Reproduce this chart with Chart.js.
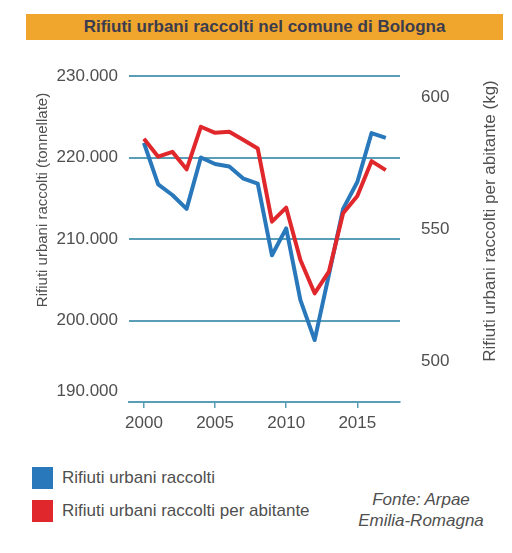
<!DOCTYPE html>
<html lang="it">
<head>
<meta charset="utf-8">
<title>Rifiuti urbani raccolti nel comune di Bologna</title>
<script src="https://cdn.jsdelivr.net/npm/chart.js@4/dist/chart.umd.min.js"></script>
<style>
  body { margin: 0; background: #fff; font-family: "Liberation Sans", Arial, sans-serif; }
  #wrap { position: relative; width: 512px; height: 553px; overflow: hidden; }
  #chartBox { position: absolute; left: 0; top: 0; width: 512px; height: 440px; }
  .titlebar { position: absolute; left: 26px; top: 14px; width: 477px; height: 26px; background: #f0a52c;
    color: #3b3c4e; font-weight: bold; font-size: 17px; line-height: 26px; text-align: center; }
  .legend { position: absolute; left: 32px; color: #4f4f4f; font-size: 17px; line-height: 22px; }
  .legend .sw { display: inline-block; width: 21px; height: 22px; vertical-align: top; margin-right: 9px; }
  .source { position: absolute; left: 340px; width: 162px; top: 489px; text-align: center; font-style: italic;
    color: #4f4f4f; font-size: 17px; line-height: 21px; }
</style>
</head>
<body>
<div id="wrap">
  <div class="titlebar">Rifiuti urbani raccolti nel comune di Bologna</div>
  <div id="chartBox"><canvas id="wasteChart" width="512" height="440"></canvas></div>
  <div class="legend" style="top:467px"><span class="sw" style="background:#2878bb"></span>Rifiuti urbani raccolti</div>
  <div class="legend" style="top:500px"><span class="sw" style="background:#e0282c"></span>Rifiuti urbani raccolti per abitante</div>
  <div class="source">Fonte: Arpae<br>Emilia-Romagna</div>
</div>
<script>
// values
const years = [2000, 2001, 2002, 2003, 2004, 2005, 2006, 2007, 2008, 2009,
  2010, 2011, 2012, 2013, 2014, 2015, 2016, 2017];
const tonnes = [221800, 216700, 215400, 213700, 220000, 219200, 218900, 217400, 216800, 208000,
  211300, 202500, 197600, 205600, 213700, 217000, 223000, 222400];
const kgPerInhabitant = [584.4, 577.6, 579.4, 572.8, 588.9, 586.6, 587.0, 583.9, 580.7, 553.0,
  558.3, 538.5, 525.9, 534.1, 556.2, 562.7, 575.9, 572.5];
const leftTicks = [190000, 200000, 210000, 220000, 230000];
const rightTicks = [500, 550, 600];
const xTicks = [2000, 2005, 2010, 2015];

const GRID = '#5a9db6';
const TEXT = '#4f4f4f';
const FONT = '"Liberation Sans", Arial, sans-serif';

function itNum(v) {
  return String(v).replace(/\B(?=(\d{3})+(?!\d))/g, '.');
}

function pts(vals) {
  return years.map((y, i) => ({ x: y, y: vals[i] }));
}

// axis titles, both read bottom to top
const axisTitles = {
  id: 'axisTitles',
  afterDraw(chart) {
    const ctx = chart.ctx;
    const items = [
      { text: 'Rifiuti urbani raccolti (tonnellate)', x: 43, y: 200, size: 15 },
      { text: 'Rifiuti urbani raccolti per abitante (kg)', x: 490, y: 221, size: 17 }
    ];
    ctx.save();
    ctx.fillStyle = TEXT;
    ctx.textAlign = 'center';
    ctx.textBaseline = 'middle';
    items.forEach(t => {
      ctx.save();
      ctx.font = `${t.size}px ${FONT}`;
      ctx.translate(t.x, t.y);
      ctx.rotate(-Math.PI / 2);
      ctx.fillText(t.text, 0, 0);
      ctx.restore();
    });
    ctx.restore();
  }
};

new Chart(document.getElementById('wasteChart'), {
  type: 'line',
  data: {
    datasets: [
      { label: 'Rifiuti urbani raccolti', data: pts(tonnes), yAxisID: 'y', borderColor: '#2878bb',
        borderWidth: 4, pointRadius: 0, tension: 0, order: 1, borderJoinStyle: 'round' },
      { label: 'Rifiuti urbani raccolti per abitante', data: pts(kgPerInhabitant), yAxisID: 'y2', borderColor: '#e0282c',
        borderWidth: 4, pointRadius: 0, tension: 0, order: 0, borderJoinStyle: 'round' }
    ]
  },
  options: {
    responsive: false,
    animation: false,
    layout: { padding: { top: 76, left: 0, right: 0, bottom: 0 } },
    plugins: { legend: { display: false }, tooltip: { enabled: false }, title: { display: false } },
    scales: {
      x: {
        type: 'linear', min: 1998.95, max: 2018,
        afterBuildTicks: s => { s.ticks = xTicks.map(v => ({ value: v })); },
        afterFit: s => { s.height = 38; },
        grid: { drawOnChartArea: false, drawTicks: true, tickLength: 6, color: GRID, lineWidth: 1.5 },
        border: { display: true, color: GRID, width: 2 },
        ticks: { color: TEXT, font: { family: FONT, size: 17 }, padding: 5, callback: v => String(v) }
      },
      y: {
        position: 'left', min: 190000, max: 230000,
        afterBuildTicks: s => { s.ticks = leftTicks.map(v => ({ value: v })); },
        afterFit: s => { s.width = 129; },
        grid: { drawTicks: false, color: GRID, lineWidth: 2 },
        border: { display: false },
        ticks: {
          color: TEXT, font: { family: FONT, size: 17 }, padding: 11,
          callback: v => v === 190000 ? [itNum(v), ''] : itNum(v)
        }
      },
      y2: {
        position: 'right', min: 484.8, max: 608.1,
        afterBuildTicks: s => { s.ticks = rightTicks.map(v => ({ value: v })); },
        afterFit: s => { s.width = 112; },
        grid: { display: false, drawOnChartArea: false },
        border: { display: false },
        ticks: { color: TEXT, font: { family: FONT, size: 17 }, padding: 13, callback: v => String(v) }
      }
    }
  },
  plugins: [axisTitles]
});
</script>
</body>
</html>
